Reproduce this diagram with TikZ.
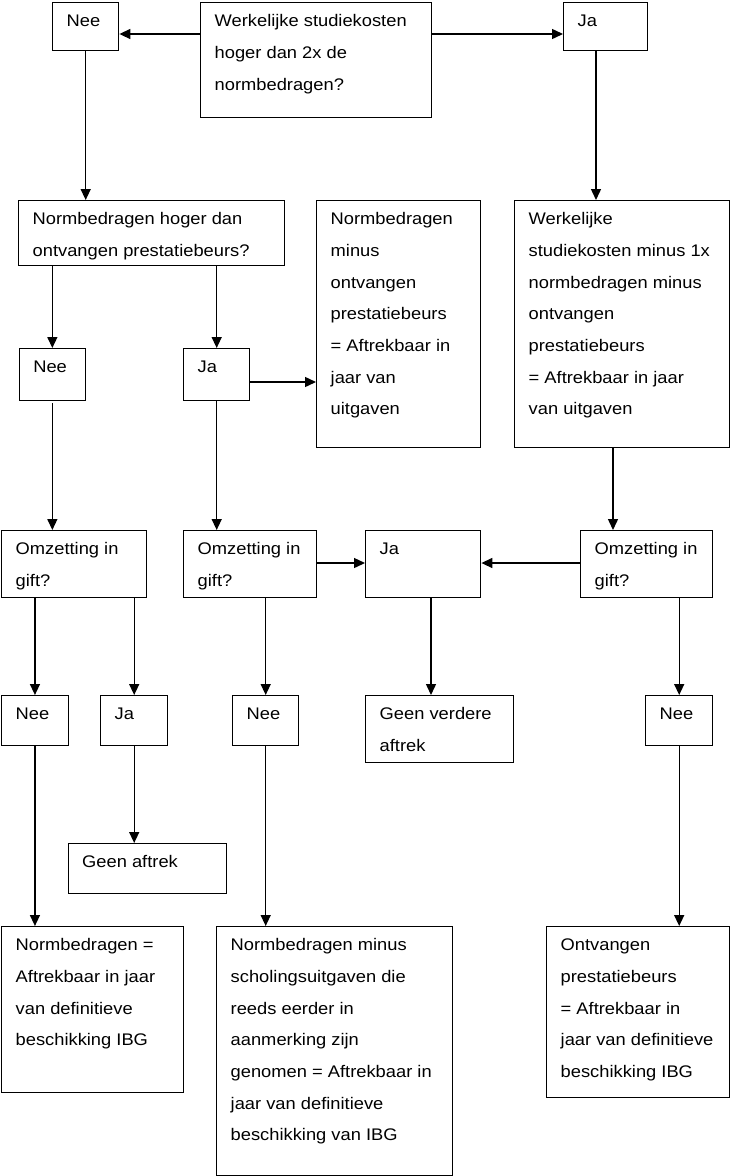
\documentclass[tikz,border=0pt]{standalone}
\usepackage{fontspec}
\setmainfont{Liberation Sans}[FakeStretch=1.09]
\usetikzlibrary{arrows.meta,calc}
\tikzset{
  box/.style={draw, line width=1.4pt, inner sep=0pt, anchor=north west},
  txt/.style={font=\fontsize{16.8}{31.7}\selectfont, align=left, inner sep=0pt, anchor=north west},
  arr/.style={line width=1.4pt, -{Triangle[length=11pt,width=10pt]}}
}
% \bx{name}{left}{top}{right}{bottom}{text}
\newcommand\bx[6]{%
  \node[box, minimum width={(#4-#2)*1pt}, minimum height={(#5-#3)*1pt}] (#1) at (#2,-#3) {};
  \node[txt] (#1-t) at ([xshift=14.5pt,yshift=-11.5pt]#1.north west) {\rule{0pt}{13pt}#6};
}
\begin{document}
\begin{tikzpicture}[x=1pt,y=1pt]
\useasboundingbox (0,0) rectangle (730,-1176);
% row 1
\bx{nee0}{52}{2}{118}{50}{Nee}
\bx{q0}{200}{2}{431}{117}{Werkelijke studiekosten\\hoger dan 2x de\\normbedragen?}
\bx{ja0}{563}{2}{647}{50}{Ja}
% row 2
\bx{r2a}{18}{200}{284}{265}{Normbedragen hoger dan\\ontvangen prestatiebeurs?}
\bx{r2b}{316}{200}{480}{447}{Normbedragen\\minus\\ontvangen\\prestatiebeurs\\= Aftrekbaar in\\jaar van\\uitgaven}
\bx{r2c}{514}{200}{729}{447}{Werkelijke\\studiekosten minus 1x\\normbedragen minus\\ontvangen\\prestatiebeurs\\= Aftrekbaar in jaar\\van uitgaven}
% row 3
\bx{r3nee}{18.6}{348}{84.7}{400}{Nee}
\bx{r3ja}{183}{348}{249}{400}{Ja}
% row 4
\bx{r4a}{1}{530}{146}{597}{Omzetting in\\gift?}
\bx{r4b}{183}{530}{316}{597}{Omzetting in\\gift?}
\bx{r4ja}{365}{530}{480}{597}{Ja}
\bx{r4c}{580}{530}{712}{597}{Omzetting in\\gift?}
% row 5
\bx{r5nee1}{1}{695}{67.5}{745}{Nee}
\bx{r5ja}{100}{695}{167}{745}{Ja}
\bx{r5nee2}{232}{695}{298}{745}{Nee}
\bx{r5geen}{365}{695}{513}{762}{Geen verdere\\aftrek}
\bx{r5nee3}{645}{695}{712}{745}{Nee}
% row 6
\bx{r6geen}{67.5}{843}{226}{893}{Geen aftrek}
% row 7
\bx{r7a}{1}{926}{183}{1092}{Normbedragen =\\Aftrekbaar in jaar\\van definitieve\\beschikking IBG}
\bx{r7b}{216}{926}{452}{1175}{Normbedragen minus\\scholingsuitgaven die\\reeds eerder in\\aanmerking zijn\\genomen = Aftrekbaar in\\jaar van definitieve\\beschikking van IBG}
\bx{r7c}{546}{926}{729}{1097}{Ontvangen\\prestatiebeurs\\= Aftrekbaar in\\jaar van definitieve\\beschikking IBG}
% connectors
\draw[arr] ([yshift=-32pt]q0.north west) -- ([yshift=-32pt]q0.north west -| nee0.east);
\draw[arr] ([yshift=-32pt]q0.north east) -- ([yshift=-32pt]q0.north east -| ja0.west);
\draw[arr] (nee0.south) -- (nee0.south |- r2a.north);
\draw[arr] ([xshift=33pt]ja0.south west) -- ([xshift=33pt]ja0.south west |- r2c.north);
\draw[arr] (r3nee.north |- r2a.south) -- (r3nee.north);
\draw[arr] (r3ja.north |- r2a.south) -- (r3ja.north);
\draw[arr] ([yshift=-34pt]r3ja.north east) -- ([yshift=-34pt]r3ja.north east -| r2b.west);
\draw[arr] ([yshift=-2pt]r3nee.south) -- (r3nee.south |- r4a.north);
\draw[arr] (r3ja.south) -- (r3ja.south |- r4b.north);
\draw[arr] ([xshift=33pt]r4c.north west |- r2c.south) -- ([xshift=33pt]r4c.north west);
\draw[arr] ([yshift=-33pt]r4b.north east) -- ([yshift=-33pt]r4b.north east -| r4ja.west);
\draw[arr] ([yshift=-33pt]r4c.north west) -- ([yshift=-33pt]r4c.north west -| r4ja.east);
\draw[arr] (r5nee1.north |- r4a.south) -- (r5nee1.north);
\draw[arr] (r5ja.north |- r4a.south) -- (r5ja.north);
\draw[arr] (r5nee2.north |- r4b.south) -- (r5nee2.north);
\draw[arr] ([xshift=66pt]r5geen.north west |- r4ja.south) -- ([xshift=66pt]r5geen.north west);
\draw[arr] (r5nee3.north |- r4c.south) -- (r5nee3.north);
\draw[arr] (r5ja.south) -- (r5ja.south |- r6geen.north);
\draw[arr] (r5nee1.south) -- (r5nee1.south |- r7a.north);
\draw[arr] (r5nee2.south) -- (r5nee2.south |- r7b.north);
\draw[arr] (r5nee3.south) -- (r5nee3.south |- r7c.north);
\end{tikzpicture}
\end{document}
